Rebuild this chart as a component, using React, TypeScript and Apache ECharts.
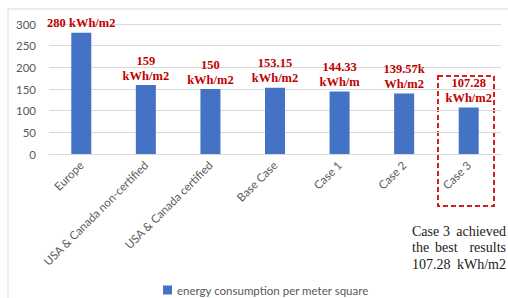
import React, { useEffect, useRef } from "react";
import * as echarts from "echarts";

const categories = [
  "Europe",
  "USA & Canada non-certified",
  "USA & Canada certified",
  "Base Case",
  "Case 1",
  "Case 2",
  "Case 3",
];
const values = [280, 159, 150, 153.15, 144.33, 139.57, 107.28];
const valueLabels = [
  "280 kWh/m2",
  "159\nkWh/m2",
  "150\nkWh/m2",
  "153.15\nkWh/m2",
  "144.33\nkWh/m",
  "139.57k\nWh/m2",
  "107.28\nkWh/m2",
];
const seriesName = "energy consumption per meter square";
const yTicks = { min: 0, max: 300, interval: 50 };

export default function App() {
  const ref = useRef<HTMLDivElement>(null);
  useEffect(() => {
    if (!ref.current) return;
    const chart = echarts.init(ref.current, undefined, { renderer: "svg" });
    const serif = "'Liberation Serif', 'Times New Roman', serif";
    const noteStyle = { fontFamily: serif, fontSize: 14, fill: "#1a1a1a" };
    const word = (text: string, x: number, y: number, align: string) => ({
      type: "text",
      x,
      y,
      style: { ...noteStyle, text, textAlign: align, textVerticalAlign: "middle" },
    });
    chart.setOption({
      animation: false,
      backgroundColor: "#ffffff",
      grid: { left: 49, right: 7, top: 24, bottom: 144 },
      legend: {
        left: 158,
        top: 279,
        itemWidth: 9,
        itemHeight: 9,
        itemGap: 5,
        icon: "rect",
        textStyle: { color: "#595959", fontSize: 11.5, fontFamily: "Lato, sans-serif" },
        data: [seriesName],
      },
      xAxis: {
        type: "category",
        data: categories,
        axisLine: { lineStyle: { color: "#d9d9d9" } },
        axisTick: { show: false },
        axisLabel: {
          rotate: 45,
          interval: 0,
          margin: 9,
          color: "#595959",
          fontSize: 11.5,
          fontFamily: "Lato, sans-serif",
        },
      },
      yAxis: {
        type: "value",
        min: yTicks.min,
        max: yTicks.max,
        interval: yTicks.interval,
        axisLine: { show: false },
        axisTick: { show: false },
        axisLabel: { color: "#595959", fontSize: 11.5, fontFamily: "Lato, sans-serif", margin: 13 },
        splitLine: { lineStyle: { color: "#d9d9d9" } },
      },
      series: [
        {
          name: seriesName,
          type: "bar",
          data: values,
          barWidth: 20,
          itemStyle: { color: "#4472C4" },
          label: {
            show: true,
            position: "top",
            distance: 2,
            formatter: (p: any) => valueLabels[p.dataIndex],
            color: "#C00000",
            fontFamily: serif,
            fontWeight: "bold",
            fontSize: 12.5,
            lineHeight: 15,
          },
        },
      ],
      graphic: [
        {
          type: "rect",
          shape: { x: 8, y: 9, width: 520, height: 320 },
          style: { fill: "none", stroke: "#d9d9d9", lineWidth: 1 },
          silent: true,
        },
        {
          type: "rect",
          shape: { x: 438, y: 76, width: 56, height: 130 },
          style: { fill: "none", stroke: "#D42020", lineWidth: 2, lineDash: [5, 3] },
          silent: true,
        },
        word("Case", 412, 231, "left"),
        word("3", 443, 231, "left"),
        word("achieved", 506, 231, "right"),
        word("the", 412, 247.5, "left"),
        word("best", 435, 247.5, "left"),
        word("results", 506, 247.5, "right"),
        word("107.28", 412, 264, "left"),
        word("kWh/m2", 506, 264, "right"),
      ],
    });
    return () => chart.dispose();
  }, []);
  return (
    <div
      ref={ref}
      style={{ position: "fixed", left: 0, top: 0, width: 508, height: 298 }}
    />
  );
}
